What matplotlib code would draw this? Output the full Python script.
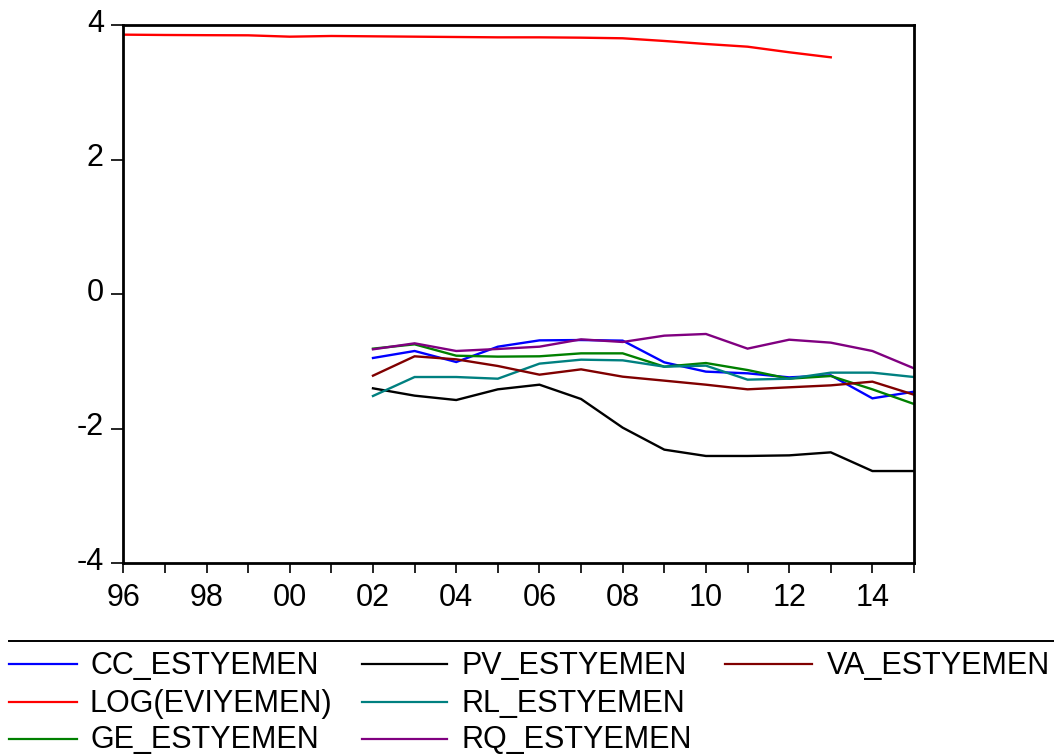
import numpy as np
import matplotlib
matplotlib.use("Agg")
import matplotlib.pyplot as plt
from matplotlib.lines import Line2D
from matplotlib.transforms import ScaledTranslation

plt.rcParams['font.family'] = ['Liberation Sans', 'DejaVu Sans']

# ---- data -------------------------------------------------------------
years = list(range(1996, 2016))
nan = np.nan

log_eviyemen = [3.861, 3.856, 3.853, 3.851, 3.831, 3.841, 3.836, 3.831, 3.826, 3.821,
                3.821, 3.816, 3.807, 3.767, 3.722, 3.682, 3.599, 3.524, nan, nan]
pre = [nan] * 6
cc_estyemen = pre + [-0.947, -0.843, -1.007, -0.779, -0.685, -0.680, -0.689,
                     -1.012, -1.150, -1.175, -1.235, -1.205, -1.547, -1.448]
ge_estyemen = pre + [-0.808, -0.744, -0.913, -0.927, -0.922, -0.878, -0.878,
                     -1.076, -1.022, -1.126, -1.255, -1.215, -1.413, -1.631]
pv_estyemen = pre + [-1.398, -1.507, -1.572, -1.413, -1.344, -1.557, -1.983,
                     -2.310, -2.404, -2.404, -2.395, -2.350, -2.628, -2.628]
rl_estyemen = pre + [-1.512, -1.230, -1.230, -1.255, -1.031, -0.972, -0.982,
                     -1.076, -1.061, -1.269, -1.255, -1.165, -1.165, -1.230]
rq_estyemen = pre + [-0.818, -0.729, -0.843, -0.813, -0.779, -0.670, -0.709,
                     -0.615, -0.590, -0.808, -0.675, -0.719, -0.843, -1.101]
va_estyemen = pre + [-1.210, -0.922, -0.967, -1.066, -1.195, -1.116, -1.225,
                     -1.284, -1.344, -1.413, -1.383, -1.354, -1.299, -1.493]

series_names = ["CC_ESTYEMEN", "LOG(EVIYEMEN)", "GE_ESTYEMEN", "PV_ESTYEMEN",
                "RL_ESTYEMEN", "RQ_ESTYEMEN", "VA_ESTYEMEN"]
series_values = [cc_estyemen, log_eviyemen, ge_estyemen, pv_estyemen,
                 rl_estyemen, rq_estyemen, va_estyemen]
series_colors = ["#0000ff", "#ff0000", "#008000", "#000000",
                 "#008080", "#800080", "#800000"]

yticks = [-4, -2, 0, 2, 4]
ytick_labels = ["-4", "-2", "0", "2", "4"]
xtick_labels = [f"{y % 100:02d}" if y % 2 == 0 else "" for y in years]

# ---- figure -----------------------------------------------------------
W, H = 1054, 754
fig = plt.figure(figsize=(W / 100, H / 100), dpi=100)
fig.patch.set_facecolor("white")

ax_left, ax_right, ax_top, ax_bottom = 123.3, 914.0, 25.3, 563.3
ax = fig.add_axes([ax_left / W, 1 - ax_bottom / H,
                   (ax_right - ax_left) / W, (ax_bottom - ax_top) / H])

for vals, col in zip(series_values, series_colors):
    ax.plot(years, vals, color=col, lw=1.7, solid_joinstyle="miter")

ax.set_xlim(1996, 2015)
ax.set_ylim(-4, 4)
ax.set_xticks(years)
ax.set_xticklabels(xtick_labels)
ax.set_yticks(yticks)
ax.set_yticklabels(ytick_labels)
ax.tick_params(axis="x", direction="out", length=7.5, width=1.2, pad=6.5,
               labelsize=22, colors="black")
ax.tick_params(axis="y", direction="out", length=8.5, width=1.2, pad=5.5,
               labelsize=22, colors="black")
for sp in ax.spines.values():
    sp.set_linewidth(2.0)
    sp.set_color("black")

# y labels sit slightly above their ticks
shift = ScaledTranslation(0, 0.05, fig.dpi_scale_trans)
for lab in ax.get_yticklabels():
    lab.set_transform(lab.get_transform() + shift)

# ---- legend -----------------------------------------------------------
fig.add_artist(Line2D([9 / W, 1.0], [1 - 641 / H, 1 - 641 / H],
                      color="black", lw=1.4, transform=fig.transFigure))

col_line_x0 = [9, 362, 725]
col_line_x1 = [77, 447, 812]
col_text_x = [90, 462, 827]
row_line_y = [664.3, 701.7, 739.0]
row_base_y = [674.5, 711.9, 747.8]

for i, (name, col) in enumerate(zip(series_names, series_colors)):
    c, r = divmod(i, 3)
    fig.add_artist(Line2D([col_line_x0[c] / W, col_line_x1[c] / W],
                          [1 - row_line_y[r] / H] * 2, color=col, lw=1.6,
                          transform=fig.transFigure))
    fig.text(col_text_x[c] / W, 1 - row_base_y[r] / H, name, fontsize=22,
             ha="left", va="baseline", color="black")

fig.savefig("out.png", dpi=100, facecolor="white")
